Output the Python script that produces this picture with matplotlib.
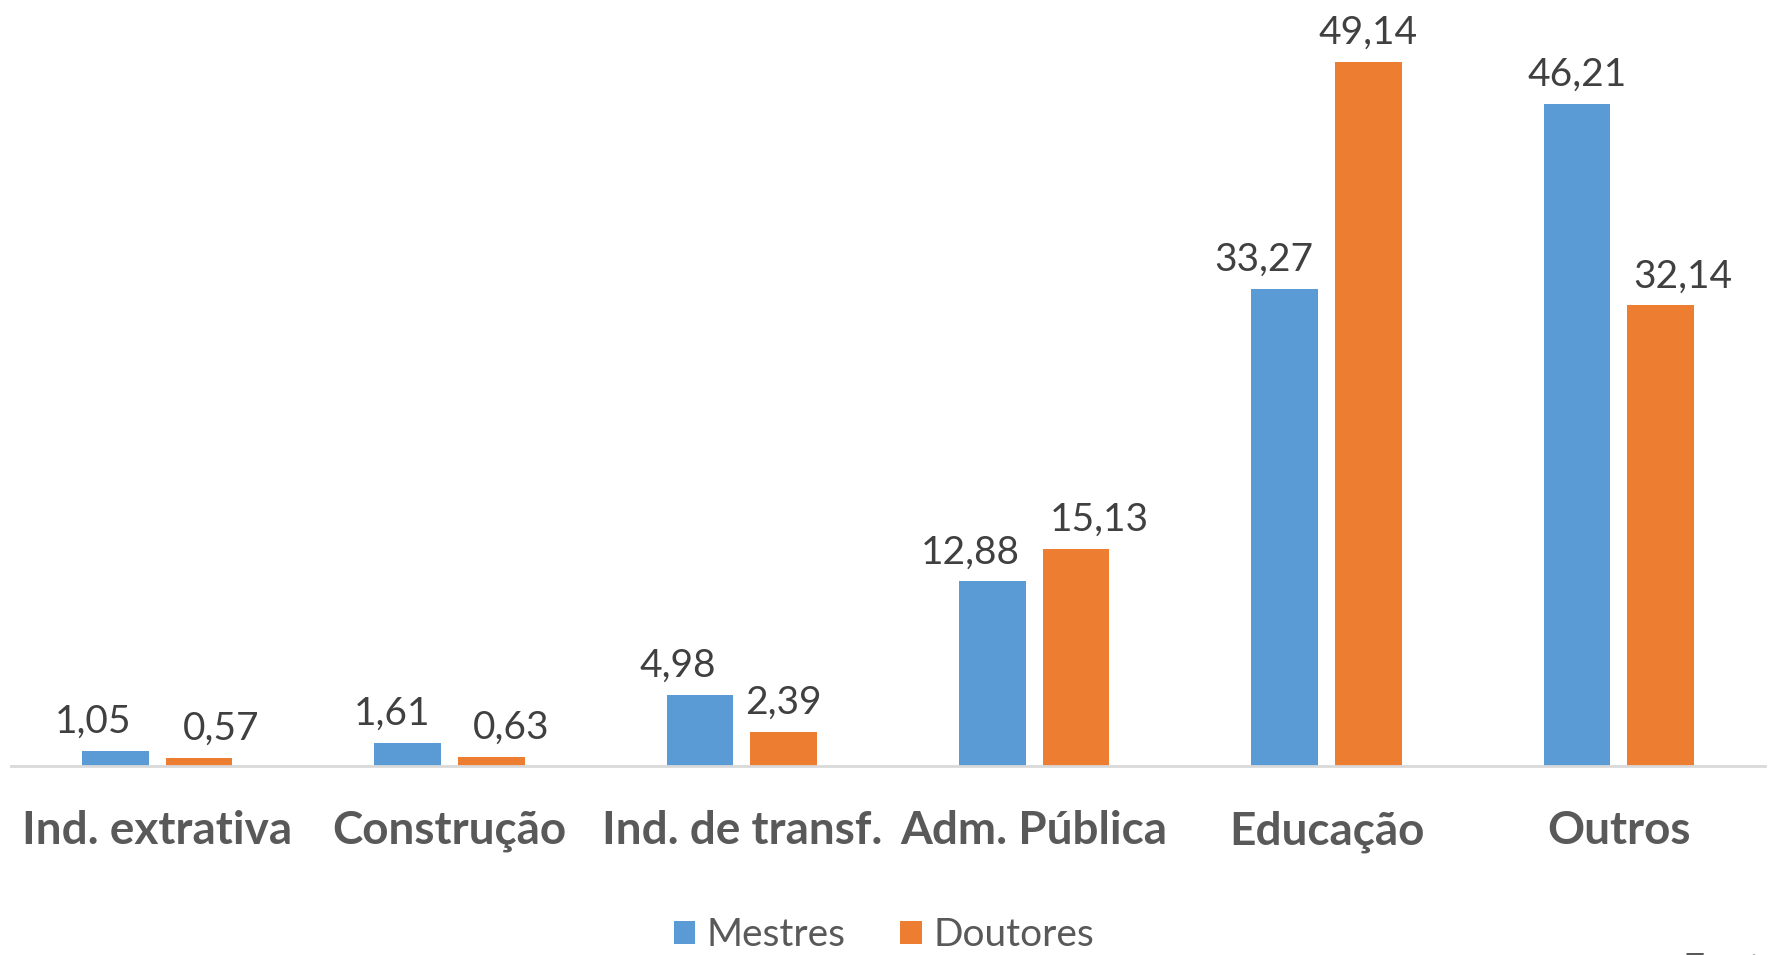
import matplotlib.pyplot as plt
import numpy as np

plt.rcParams['font.family'] = ['Lato', 'DejaVu Sans']

categorias = ["Ind. extrativa", "Construção", "Ind. de transf.", "Adm. Pública", "Educação", "Outros"]
mestres = [1.05, 1.61, 4.98, 12.88, 33.27, 46.21]
doutores = [0.57, 0.63, 2.39, 15.13, 49.14, 32.14]

azul = "#5B9BD5"
laranja = "#ED7D31"

# deslocamento horizontal dos rótulos (pontos), como no gráfico original
desl_m = [-16, -11, -16, -16, -15, 0]
desl_d = [16, 14, 0, 17, 0, 16]

fig = plt.figure(figsize=(17.68, 9.55), dpi=100)
ax = fig.add_axes([11 / 1768, 189 / 955, 1754 / 1768, 766 / 955])

x = np.arange(len(categorias))
larg = 0.228
b1 = ax.bar(x - 0.143, mestres, larg, color=azul, label="Mestres")
b2 = ax.bar(x + 0.143, doutores, larg, color=laranja, label="Doutores")

fmt = lambda v: f"{v:.2f}".replace(".", ",")
for barras, vals, desl in ((b1, mestres, desl_m), (b2, doutores, desl_d)):
    for b, v, d in zip(barras, vals, desl):
        ax.annotate(fmt(v), (b.get_x() + b.get_width() / 2, v), xytext=(d, 8),
                    textcoords="offset points", ha="center", va="bottom",
                    fontsize=28, color="#404040")

ax.set_xlim(-0.5, len(categorias) - 0.5)
ax.set_ylim(0, 53.45)
ax.set_yticks([])
ax.set_xticks(x)
ax.set_xticklabels(categorias, fontsize=33, fontweight="bold", color="#595959")
ax.tick_params(axis="x", length=0, pad=32)
for s in ["top", "right", "left"]:
    ax.spines[s].set_visible(False)
ax.spines["bottom"].set_color("#D9D9D9")
ax.spines["bottom"].set_linewidth(2)

leg = fig.legend(loc="center", bbox_to_anchor=(0.5, 20 / 955), ncol=2, frameon=False,
                 fontsize=28, handlelength=0.55, handleheight=0.55, handletextpad=0.3,
                 columnspacing=1.4)
for t in leg.get_texts():
    t.set_color("#595959")

fig.text(1682 / 1768, 3 / 955, "Fonte:", fontsize=28, color="#595959", ha="left", va="top")

fig.savefig("out.png", dpi=100)
